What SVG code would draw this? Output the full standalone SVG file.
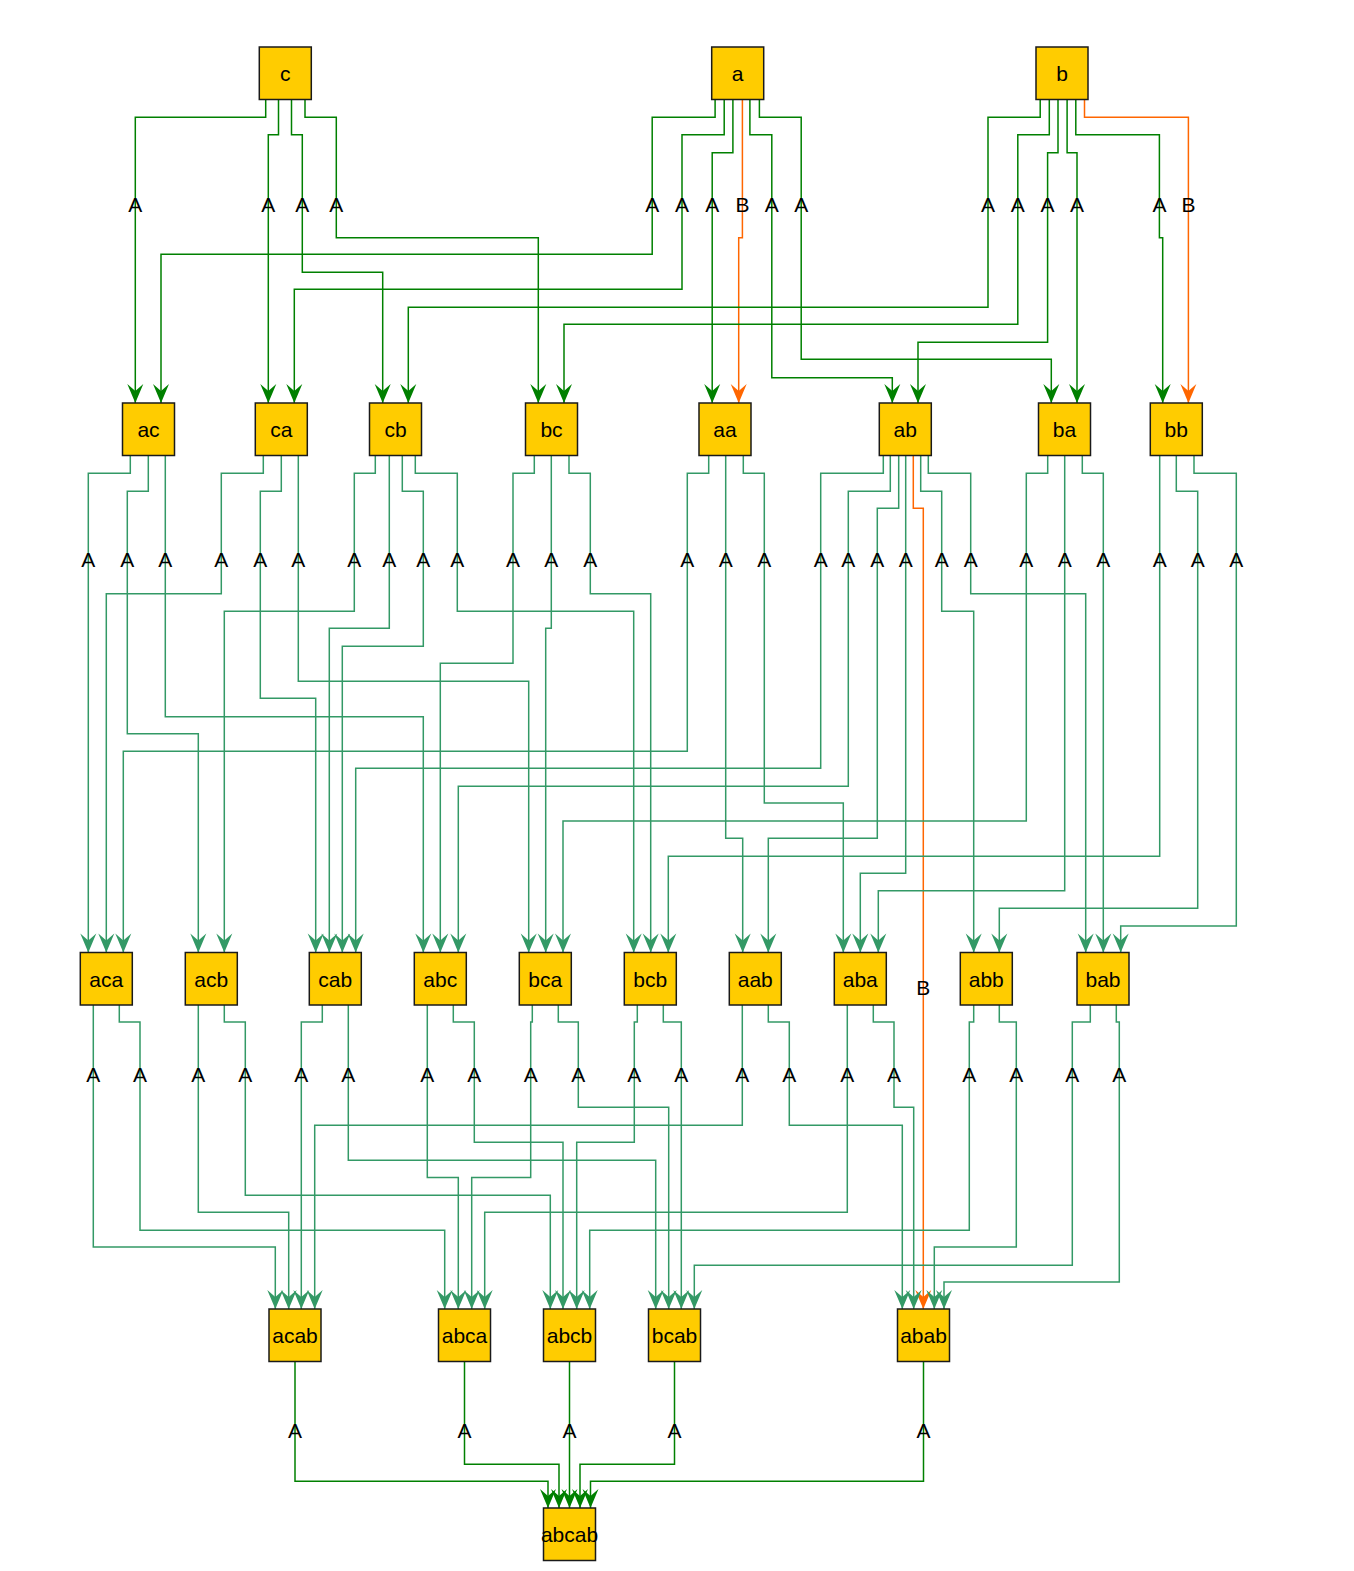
<svg xmlns="http://www.w3.org/2000/svg" width="1354" height="1571" viewBox="0 0 1354 1571">
<style>
.n rect{fill:#ffcc00;stroke:#1a1a1a;stroke-width:1.5}
.n text{font-family:"Liberation Sans",Arial,sans-serif;font-size:21px;text-anchor:middle;fill:#000}
.e{fill:none;stroke-width:1.5}
.g1{stroke:#008000}
.g2{stroke:#339966}
.o{stroke:#ff6600}
.g1{marker-end:url(#mg1)}
.g2{marker-end:url(#mg2)}
.o{marker-end:url(#mo)}
.l{font-family:"Liberation Sans",Arial,sans-serif;font-size:21px;text-anchor:middle;fill:#000}
</style>
<defs>
<marker id="mg1" viewBox="-20 -9 20 18" markerWidth="20" markerHeight="18" refX="0" refY="0" orient="auto" markerUnits="userSpaceOnUse"><path d="M0,0 L-19,-8 L-12,0 L-19,8 Z" fill="#008000"/></marker>
<marker id="mg2" viewBox="-20 -9 20 18" markerWidth="20" markerHeight="18" refX="0" refY="0" orient="auto" markerUnits="userSpaceOnUse"><path d="M0,0 L-19,-8 L-12,0 L-19,8 Z" fill="#339966"/></marker>
<marker id="mo" viewBox="-20 -9 20 18" markerWidth="20" markerHeight="18" refX="0" refY="0" orient="auto" markerUnits="userSpaceOnUse"><path d="M0,0 L-19,-8 L-12,0 L-19,8 Z" fill="#ff6600"/></marker>
</defs>
<rect width="1354" height="1571" fill="#fff"/>
<g id="connectors">
<!-- level 0 -> 1 -->
<path class="e g1" d="M265.7,99.5 V117.3 H135.3 V403"/>
<path class="e g1" d="M278.5,99.5 V134.7 H268.3 V403"/>
<path class="e g1" d="M291.5,99.5 V134.7 H302.3 V272.3 H382.7 V403"/>
<path class="e g1" d="M305,99.5 V117.3 H336.3 V237.7 H538.3 V403"/>
<path class="e g1" d="M715.1,99.5 V117.3 H652.2 V254.3 H161 V403"/>
<path class="e g1" d="M724.2,99.5 V134.7 H682 V289.3 H294.3 V403"/>
<path class="e g1" d="M732.9,99.5 V152.7 H712.2 V403"/>
<path class="e o" d="M742.4,99.5 V237.7 H738.7 V403"/>
<path class="e g1" d="M749.9,99.5 V134.7 H771.8 V377.7 H892.3 V403"/>
<path class="e g1" d="M759.4,99.5 V117.3 H801.2 V359.3 H1051.3 V403"/>
<path class="e g1" d="M1040.2,99.5 V117.3 H988 V307.3 H408.3 V403"/>
<path class="e g1" d="M1049.3,99.5 V134.7 H1017.8 V324.3 H564 V403"/>
<path class="e g1" d="M1058,99.5 V152.7 H1047.6 V342.3 H918 V403"/>
<path class="e g1" d="M1067.1,99.5 V152.7 H1077 V403"/>
<path class="e g1" d="M1075.8,99.5 V134.7 H1159.4 V237.7 H1162.7 V403"/>
<path class="e o" d="M1084.5,99.5 V117.3 H1188.4 V403"/>
<!-- level 1 -> 2 -->
<path class="e g2" d="M130.3,455.5 V473.3 H88.3 V952.5"/>
<path class="e g2" d="M148.3,455.5 V491.3 H127.3 V733.7 H198.3 V952.5"/>
<path class="e g2" d="M165.3,455.5 V716.7 H423.3 V952.5"/>
<path class="e g2" d="M263.3,455.5 V473.3 H221.3 V593.7 H106.3 V952.5"/>
<path class="e g2" d="M281.3,455.5 V491.3 H260.3 V698.3 H315.7 V952.5"/>
<path class="e g2" d="M298.3,455.5 V681.3 H528.7 V952.5"/>
<path class="e g2" d="M375.3,455.5 V473.3 H354.3 V611.3 H224.3 V952.5"/>
<path class="e g2" d="M389.3,455.5 V628.3 H329.3 V952.5"/>
<path class="e g2" d="M402.3,455.5 V491.3 H423.3 V646.3 H342.3 V952.5"/>
<path class="e g2" d="M415.3,455.5 V473.3 H457.3 V611.3 H633.7 V952.5"/>
<path class="e g2" d="M534.3,455.5 V473.3 H513 V663.3 H440.3 V952.5"/>
<path class="e g2" d="M551.3,455.5 V628.3 H545.7 V952.5"/>
<path class="e g2" d="M569,455.5 V473.3 H590.3 V593.7 H650.7 V952.5"/>
<path class="e g2" d="M708.7,455.5 V473.3 H687.3 V751.3 H123.3 V952.5"/>
<path class="e g2" d="M725.7,455.5 V838.3 H742.7 V952.5"/>
<path class="e g2" d="M743.3,455.5 V473.3 H764.3 V803 H843.3 V952.5"/>
<path class="e g2" d="M883.3,455.5 V473.3 H820.7 V768.3 H355.7 V952.5"/>
<path class="e g2" d="M890.3,455.5 V491.3 H848.3 V786.3 H458.3 V952.5"/>
<path class="e g2" d="M898.7,455.5 V508.3 H877.3 V838.3 H768.3 V952.5"/>
<path class="e g2" d="M905.7,455.5 V873.3 H860.3 V952.5"/>
<path class="e o" d="M913.3,455.5 V508.3 H923.3 V1309"/>
<path class="e g2" d="M920.7,455.5 V491.3 H941.7 V611.3 H973.7 V952.5"/>
<path class="e g2" d="M928.3,455.5 V473.3 H970.7 V593.7 H1085.7 V952.5"/>
<path class="e g2" d="M1047.7,455.5 V473.3 H1026.3 V821 H563 V952.5"/>
<path class="e g2" d="M1064.7,455.5 V890.7 H878.3 V952.5"/>
<path class="e g2" d="M1082.3,455.5 V473.3 H1103.3 V952.5"/>
<path class="e g2" d="M1159.7,455.5 V856.3 H668.3 V952.5"/>
<path class="e g2" d="M1176.3,455.5 V491.3 H1197.7 V908.3 H999.3 V952.5"/>
<path class="e g2" d="M1194,455.5 V473.3 H1236.3 V926 H1120.7 V952.5"/>
<!-- level 2 -> 3 -->
<path class="e g2" d="M93.3,1005 V1247 H275.3 V1309"/>
<path class="e g2" d="M119.3,1005 V1022 H140 V1230.3 H444.7 V1309"/>
<path class="e g2" d="M198.3,1005 V1212.3 H288.7 V1309"/>
<path class="e g2" d="M224.3,1005 V1022 H245.3 V1195.3 H550.3 V1309"/>
<path class="e g2" d="M322.3,1005 V1022 H301.3 V1309"/>
<path class="e g2" d="M348.3,1005 V1160.3 H655.7 V1309"/>
<path class="e g2" d="M427.3,1005 V1177.5 H458.3 V1309"/>
<path class="e g2" d="M453.3,1005 V1022 H474.3 V1142.3 H563 V1309"/>
<path class="e g2" d="M532.3,1005 V1022 H530.7 V1177.5 H471.7 V1309"/>
<path class="e g2" d="M558.3,1005 V1022 H578.3 V1107.3 H668.7 V1309"/>
<path class="e g2" d="M637.3,1005 V1022 H634.3 V1142.3 H576.7 V1309"/>
<path class="e g2" d="M663.3,1005 V1022 H681.3 V1309"/>
<path class="e g2" d="M742.3,1005 V1125.3 H314.7 V1309"/>
<path class="e g2" d="M768.3,1005 V1022 H789.3 V1125.3 H902.3 V1309"/>
<path class="e g2" d="M847.3,1005 V1212.3 H484.7 V1309"/>
<path class="e g2" d="M873.3,1005 V1022 H894 V1107.3 H913.7 V1309"/>
<path class="e g2" d="M973.7,1005 V1022 H969.3 V1230.3 H589.7 V1309"/>
<path class="e g2" d="M999.3,1005 V1022 H1016.3 V1247 H934.3 V1309"/>
<path class="e g2" d="M1090.3,1005 V1022 H1072.3 V1265.3 H694.3 V1309"/>
<path class="e g2" d="M1116.3,1005 V1022 H1119.3 V1282 H944 V1309"/>
<!-- level 3 -> 4 -->
<path class="e g1" d="M295,1361.5 V1481.3 H548 V1508"/>
<path class="e g1" d="M464.5,1361.5 V1464.3 H559 V1508"/>
<path class="e g1" d="M569.5,1361.5 V1508"/>
<path class="e g1" d="M674.5,1361.5 V1464.3 H580 V1508"/>
<path class="e g1" d="M923.5,1361.5 V1481.3 H590.5 V1508"/>
<!-- labels row 1 -->
<g class="l">
<text x="135.3" y="212.3">A</text>
<text x="268.3" y="212.3">A</text>
<text x="302.3" y="212.3">A</text>
<text x="336.3" y="212.3">A</text>
<text x="652.2" y="212.3">A</text>
<text x="682" y="212.3">A</text>
<text x="712.2" y="212.3">A</text>
<text x="742.4" y="212.3">B</text>
<text x="771.8" y="212.3">A</text>
<text x="801.2" y="212.3">A</text>
<text x="988" y="212.3">A</text>
<text x="1017.8" y="212.3">A</text>
<text x="1047.6" y="212.3">A</text>
<text x="1077" y="212.3">A</text>
<text x="1159.4" y="212.3">A</text>
<text x="1188.4" y="212.3">B</text>
</g>
<g class="l">
<text x="88.3" y="567.3">A</text>
<text x="127.3" y="567.3">A</text>
<text x="165.3" y="567.3">A</text>
<text x="221.3" y="567.3">A</text>
<text x="260.3" y="567.3">A</text>
<text x="298.3" y="567.3">A</text>
<text x="354.3" y="567.3">A</text>
<text x="389.3" y="567.3">A</text>
<text x="423.3" y="567.3">A</text>
<text x="457.3" y="567.3">A</text>
<text x="513" y="567.3">A</text>
<text x="551.3" y="567.3">A</text>
<text x="590.3" y="567.3">A</text>
<text x="687.3" y="567.3">A</text>
<text x="725.7" y="567.3">A</text>
<text x="764.3" y="567.3">A</text>
<text x="820.7" y="567.3">A</text>
<text x="848.3" y="567.3">A</text>
<text x="877.3" y="567.3">A</text>
<text x="905.7" y="567.3">A</text>
<text x="941.7" y="567.3">A</text>
<text x="970.7" y="567.3">A</text>
<text x="1026.3" y="567.3">A</text>
<text x="1064.7" y="567.3">A</text>
<text x="1103.3" y="567.3">A</text>
<text x="1159.7" y="567.3">A</text>
<text x="1197.7" y="567.3">A</text>
<text x="1236.3" y="567.3">A</text>
<text x="923.3" y="995">B</text>
</g>
<g class="l">
<text x="93.3" y="1081.7">A</text>
<text x="140" y="1081.7">A</text>
<text x="198.3" y="1081.7">A</text>
<text x="245.3" y="1081.7">A</text>
<text x="301.3" y="1081.7">A</text>
<text x="348.3" y="1081.7">A</text>
<text x="427.3" y="1081.7">A</text>
<text x="474.3" y="1081.7">A</text>
<text x="530.7" y="1081.7">A</text>
<text x="578.3" y="1081.7">A</text>
<text x="634.3" y="1081.7">A</text>
<text x="681.3" y="1081.7">A</text>
<text x="742.3" y="1081.7">A</text>
<text x="789.3" y="1081.7">A</text>
<text x="847.3" y="1081.7">A</text>
<text x="894" y="1081.7">A</text>
<text x="969.3" y="1081.7">A</text>
<text x="1016.3" y="1081.7">A</text>
<text x="1072.3" y="1081.7">A</text>
<text x="1119.3" y="1081.7">A</text>
</g>
<g class="l">
<text x="295" y="1438.3">A</text>
<text x="464.5" y="1438.3">A</text>
<text x="569.5" y="1438.3">A</text>
<text x="674.5" y="1438.3">A</text>
<text x="923.5" y="1438.3">A</text>
</g>
</g>
<g id="node-c" class="n"><rect x="259.3" y="47" width="52" height="52.5"/><text x="285.3" y="81">c</text></g>
<g id="node-a" class="n"><rect x="711.7" y="47" width="52" height="52.5"/><text x="737.7" y="81">a</text></g>
<g id="node-b" class="n"><rect x="1036" y="47" width="52" height="52.5"/><text x="1062" y="81">b</text></g>
<g id="node-ac" class="n"><rect x="122.5" y="403" width="52" height="52.5"/><text x="148.5" y="437">ac</text></g>
<g id="node-ca" class="n"><rect x="255.3" y="403" width="52" height="52.5"/><text x="281.3" y="437">ca</text></g>
<g id="node-cb" class="n"><rect x="369.5" y="403" width="52" height="52.5"/><text x="395.5" y="437">cb</text></g>
<g id="node-bc" class="n"><rect x="525.5" y="403" width="52" height="52.5"/><text x="551.5" y="437">bc</text></g>
<g id="node-aa" class="n"><rect x="699" y="403" width="52" height="52.5"/><text x="725" y="437">aa</text></g>
<g id="node-ab" class="n"><rect x="879.3" y="403" width="52" height="52.5"/><text x="905.3" y="437">ab</text></g>
<g id="node-ba" class="n"><rect x="1038.5" y="403" width="52" height="52.5"/><text x="1064.5" y="437">ba</text></g>
<g id="node-bb" class="n"><rect x="1150.3" y="403" width="52" height="52.5"/><text x="1176.3" y="437">bb</text></g>
<g id="node-aca" class="n"><rect x="80.3" y="952.5" width="52" height="52.5"/><text x="106.3" y="986.5">aca</text></g>
<g id="node-acb" class="n"><rect x="185.3" y="952.5" width="52" height="52.5"/><text x="211.3" y="986.5">acb</text></g>
<g id="node-cab" class="n"><rect x="309.3" y="952.5" width="52" height="52.5"/><text x="335.3" y="986.5">cab</text></g>
<g id="node-abc" class="n"><rect x="414.3" y="952.5" width="52" height="52.5"/><text x="440.3" y="986.5">abc</text></g>
<g id="node-bca" class="n"><rect x="519.3" y="952.5" width="52" height="52.5"/><text x="545.3" y="986.5">bca</text></g>
<g id="node-bcb" class="n"><rect x="624.3" y="952.5" width="52" height="52.5"/><text x="650.3" y="986.5">bcb</text></g>
<g id="node-aab" class="n"><rect x="729.3" y="952.5" width="52" height="52.5"/><text x="755.3" y="986.5">aab</text></g>
<g id="node-aba" class="n"><rect x="834.3" y="952.5" width="52" height="52.5"/><text x="860.3" y="986.5">aba</text></g>
<g id="node-abb" class="n"><rect x="960.3" y="952.5" width="52" height="52.5"/><text x="986.3" y="986.5">abb</text></g>
<g id="node-bab" class="n"><rect x="1077" y="952.5" width="52" height="52.5"/><text x="1103" y="986.5">bab</text></g>
<g id="node-acab" class="n"><rect x="269" y="1309" width="52" height="52.5"/><text x="295" y="1343">acab</text></g>
<g id="node-abca" class="n"><rect x="438.5" y="1309" width="52" height="52.5"/><text x="464.5" y="1343">abca</text></g>
<g id="node-abcb" class="n"><rect x="543.5" y="1309" width="52" height="52.5"/><text x="569.5" y="1343">abcb</text></g>
<g id="node-bcab" class="n"><rect x="648.5" y="1309" width="52" height="52.5"/><text x="674.5" y="1343">bcab</text></g>
<g id="node-abab" class="n"><rect x="897.5" y="1309" width="52" height="52.5"/><text x="923.5" y="1343">abab</text></g>
<g id="node-abcab" class="n"><rect x="543.5" y="1508" width="52" height="52.5"/><text x="569.5" y="1542">abcab</text></g>
</svg>
